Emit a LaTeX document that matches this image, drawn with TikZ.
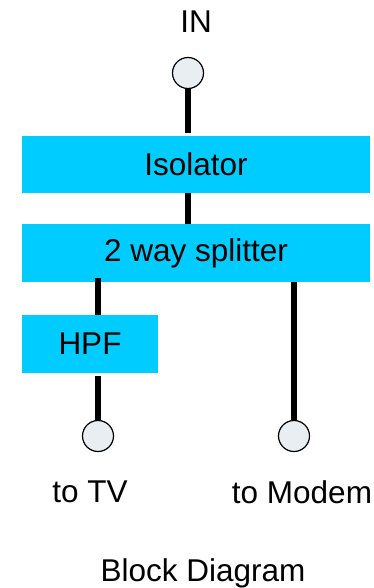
\documentclass[tikz,border=0pt]{standalone}
\usepackage{fontspec}
\setmainfont{Liberation Sans}
\definecolor{boxcyan}{HTML}{00CCFF}
\definecolor{portfill}{HTML}{E8EEF2}
\begin{document}
\begin{tikzpicture}[x=1pt,y=-1pt,
  blk/.style={fill=boxcyan,draw=none,inner sep=0pt,font=\fontsize{31.5}{38}\selectfont},
  port/.style={circle,draw=black,line width=1.2pt,fill=portfill,minimum size=31pt,inner sep=0pt},
  lbl/.style={inner sep=0pt,font=\fontsize{31.5}{38}\selectfont},
  wire/.style={line width=6pt}]
\useasboundingbox (0,0) rectangle (374,588);
\node[lbl] (intxt) at (196,22) {IN};
\node[blk,minimum width=348pt,minimum height=57pt] (iso) at (196,164.5) {Isolator};
\node[blk,minimum width=348pt,minimum height=58pt] (spl) at (196,253) {2 way splitter};
\node[blk,minimum width=136pt,minimum height=58pt] (hpf) at (90,344) {HPF};
\coordinate (inwire) at (188,133);
\coordinate (tvtop) at (98,376);
\coordinate (splL) at (98,278);
\draw[wire] (inwire) -- (188,88);
\node[port] (in) at (188,73) {};
\draw[wire] (iso.south -| inwire) -- (spl.north -| inwire);
\draw[wire] (splL) -- (hpf.north -| splL);
\node[port] (tv) at (98,436) {};
\node[port] (modem) at (294,436) {};
\draw[wire] (tvtop) -- (tv.north);
\draw[wire] (spl.south -| modem) -- (modem.north);
\node[lbl] (tvtxt) at (90,492) {to TV};
\node[lbl] (modemtxt) at (302,492) {to Modem};
\node[lbl] (title) at (203,573) {Block Diagram};
\end{tikzpicture}
\end{document}
